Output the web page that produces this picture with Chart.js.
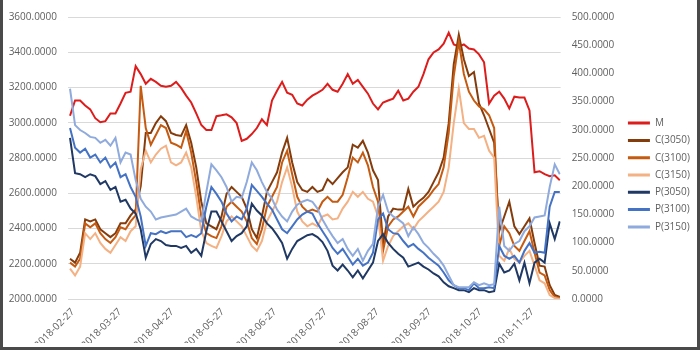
<!DOCTYPE html>
<html><head><meta charset="utf-8">
<script src="https://cdn.jsdelivr.net/npm/chart.js@4.4.1/dist/chart.umd.min.js"></script>
<style>
html,body{margin:0;padding:0;background:#fff;}
#wrap{position:relative;width:700px;height:350px;}
#frame{position:absolute;left:0;top:0;width:700px;height:350px;box-sizing:border-box;border-left:3px solid #4a4a4a;border-right:3px solid #4a4a4a;border-bottom:3px solid #4a4a4a;pointer-events:none;}
canvas{display:block;}
</style></head>
<body><div id="wrap"><canvas id="c" width="700" height="350"></canvas><div id="frame"></div></div>
<script>
const dates = ['2018-02-27','2018-03-02','2018-03-05','2018-03-08','2018-03-11','2018-03-14','2018-03-17','2018-03-20','2018-03-23','2018-03-26','2018-03-29','2018-04-01','2018-04-04','2018-04-07','2018-04-10','2018-04-13','2018-04-16','2018-04-19','2018-04-22','2018-04-25','2018-04-28','2018-05-01','2018-05-04','2018-05-07','2018-05-10','2018-05-13','2018-05-16','2018-05-19','2018-05-22','2018-05-25','2018-05-28','2018-05-31','2018-06-03','2018-06-06','2018-06-09','2018-06-12','2018-06-15','2018-06-18','2018-06-21','2018-06-24','2018-06-27','2018-06-30','2018-07-03','2018-07-06','2018-07-09','2018-07-12','2018-07-15','2018-07-18','2018-07-21','2018-07-24','2018-07-27','2018-07-30','2018-08-02','2018-08-05','2018-08-08','2018-08-11','2018-08-14','2018-08-17','2018-08-20','2018-08-23','2018-08-26','2018-08-29','2018-09-01','2018-09-04','2018-09-07','2018-09-10','2018-09-13','2018-09-16','2018-09-19','2018-09-22','2018-09-25','2018-09-28','2018-10-01','2018-10-04','2018-10-07','2018-10-10','2018-10-13','2018-10-16','2018-10-19','2018-10-22','2018-10-25','2018-10-28','2018-10-31','2018-11-03','2018-11-06','2018-11-09','2018-11-12','2018-11-15','2018-11-18','2018-11-21','2018-11-24','2018-11-27','2018-11-30','2018-12-03','2018-12-06','2018-12-09','2018-12-12','2018-12-15'];

const tickLabels = ['2018-02-27','2018-03-27','2018-04-27','2018-05-27','2018-06-27','2018-07-27','2018-08-27','2018-09-27','2018-10-27','2018-11-27'];

const seriesNames = ['M','C(3050)','C(3100)','C(3150)','P(3050)','P(3100)','P(3150)'];

const M = [3040,3126,3126,3098,3076,3026,3003,3009,3053,3053,
3109,3170,3176,3321,3276,3221,3249,3232,3210,3204,
3210,3232,3198,3154,3115,3053,2987,2959,2959,3037,
3042,3048,3031,2998,2897,2909,2936,2970,3020,2987,
3126,3182,3232,3170,3159,3109,3098,3131,3154,3170,
3187,3221,3187,3176,3221,3276,3221,3243,3204,3165,
3109,3076,3115,3126,3137,3182,3126,3137,3176,3204,
3276,3360,3399,3416,3449,3511,3444,3433,3444,3421,
3416,3388,3343,3109,3154,3176,3137,3081,3148,3143,
3143,3070,2719,2725,2708,2697,2702,2674];

const C3050 = [71.4,64.5,81.9,141.1,137.6,141.1,123.7,116.7,109.7,116.7,
134.1,134.1,148.1,158.5,200.3,294.4,294.4,311.8,324.0,315.3,
294.4,290.9,289.2,308.3,277.0,233.4,172.5,134.1,128.9,123.7,
146.3,186.4,198.6,189.9,181.2,160.3,123.7,108.0,146.3,189.9,
207.3,224.7,259.6,285.7,242.1,207.3,193.4,189.9,198.6,189.9,
193.4,212.5,203.8,214.3,224.7,233.4,273.5,268.3,280.5,259.6,
228.2,210.8,97.6,146.3,160.3,158.5,158.5,195.1,163.7,172.5,
179.4,189.9,207.3,224.7,250.8,311.8,416.3,468.6,425.0,395.4,
402.4,346.7,325.8,301.4,277.0,120.2,146.3,172.5,128.9,115.0,
128.9,142.8,99.3,59.2,57.5,24.4,7.0,3.5];

const C3100 = [64.5,57.5,71.4,134.1,127.2,134.1,116.7,106.3,99.3,109.7,
127.2,123.7,137.6,148.1,378.0,303.1,273.5,290.9,308.3,303.1,
277.0,273.5,268.3,297.9,259.6,207.3,146.3,116.7,111.5,108.0,
128.9,163.7,172.5,163.7,155.0,137.6,108.0,97.6,123.7,163.7,
181.2,198.6,242.1,263.0,221.2,181.2,163.7,155.0,158.5,155.0,
172.5,181.2,172.5,172.5,184.7,216.0,250.8,242.1,259.6,236.9,
198.6,172.5,85.4,128.9,141.1,146.3,155.0,163.7,146.3,163.7,
172.5,181.2,193.4,203.8,233.4,294.4,395.4,456.4,398.9,367.6,
351.9,341.4,336.2,325.8,303.1,94.1,128.9,116.7,94.1,85.4,
102.8,120.2,81.9,47.0,41.8,15.7,3.5,1.7];

const C3150 = [54.0,41.8,57.5,116.7,106.3,116.7,99.3,88.8,81.9,95.8,
109.7,102.8,120.2,128.9,230.0,263.0,242.1,256.1,266.5,271.8,
242.1,236.9,242.1,259.6,233.4,181.2,120.2,99.3,94.1,90.6,
111.5,137.6,146.3,137.6,128.9,111.5,94.1,85.4,102.8,137.6,
155.0,172.5,207.3,233.4,198.6,155.0,137.6,128.9,134.1,128.9,
146.3,149.8,141.1,142.8,160.3,172.5,189.9,181.2,189.9,177.7,
172.5,146.3,67.9,94.1,111.5,120.2,128.9,134.1,123.7,137.6,
146.3,155.0,163.7,172.5,189.9,233.4,311.8,372.8,311.8,301.4,
301.4,285.7,289.2,263.0,250.8,76.6,67.9,88.8,71.4,64.5,
76.6,85.4,59.2,33.1,27.9,7.0,1.7,0.0];

const P3050 = [285.7,223.0,221.2,216.0,221.2,217.8,203.8,209.0,193.4,198.6,
172.5,175.9,160.3,151.6,123.7,73.2,97.6,106.3,102.8,95.8,
94.1,94.1,90.6,94.1,81.9,88.8,76.6,120.2,155.0,155.0,
137.6,120.2,102.8,111.5,116.7,128.9,169.0,156.8,148.1,134.1,
125.4,113.2,99.3,71.4,88.8,102.8,108.0,113.2,115.0,109.7,
101.0,85.4,59.2,50.5,61.0,50.5,38.3,50.5,36.6,50.5,
64.5,102.8,115.0,99.3,88.8,80.1,73.2,57.5,61.0,64.5,
57.5,52.3,45.3,40.1,29.6,22.6,19.2,15.7,15.7,12.2,
19.2,15.7,15.7,12.2,13.9,62.7,47.0,50.5,62.7,33.1,
64.5,27.9,64.5,71.4,64.5,134.1,106.3,137.6];

const P3100 = [303.1,268.3,259.6,266.5,250.8,256.1,242.1,250.8,233.4,242.1,
216.0,221.2,198.6,181.2,146.3,94.1,116.7,115.0,120.2,116.7,
120.2,120.2,120.2,109.7,113.2,109.7,116.7,163.7,198.6,186.4,
172.5,151.6,137.6,146.3,141.1,160.3,202.1,191.6,181.2,169.0,
158.5,141.1,123.7,116.7,128.9,141.1,149.8,155.0,151.6,134.1,
120.2,106.3,90.6,80.1,88.8,74.9,61.0,71.4,59.2,64.5,
81.9,141.1,151.6,123.7,116.7,115.0,102.8,92.3,97.6,88.8,
81.9,73.2,66.2,59.2,47.0,33.1,24.4,19.2,19.2,15.7,
27.9,19.2,19.2,20.9,19.2,94.1,76.6,71.4,76.6,64.5,
85.4,99.3,81.9,83.6,81.9,163.7,189.9,189.9];

const P3150 = [372.8,308.3,299.6,294.4,287.4,285.7,277.0,282.2,271.8,285.7,
242.1,259.6,256.1,210.8,177.7,163.7,155.0,141.1,144.6,146.3,
148.1,149.8,155.0,160.3,146.3,141.1,137.6,189.9,238.7,228.2,
216.0,198.6,172.5,181.2,179.4,207.3,242.1,228.2,207.3,189.9,
177.7,158.5,146.3,137.6,155.0,167.2,172.5,175.9,172.5,160.3,
141.1,125.4,111.5,99.3,106.3,88.8,76.6,88.8,67.9,85.4,
97.6,163.7,184.7,155.0,146.3,141.1,134.1,111.5,127.2,115.0,
99.3,90.6,80.1,71.4,59.2,41.8,24.4,20.9,20.9,20.9,
29.6,24.4,27.9,24.4,26.1,163.7,94.1,85.4,97.6,102.8,
120.2,128.9,144.6,146.3,148.1,198.6,238.7,221.2];

const leftTicks = {min: 2000, max: 3600, step: 200};
const rightTicks = {min: 0, max: 500, step: 50};

const colors = ['#DD1C1C','#843C0C','#C55A11','#F4B183','#1F3864','#4472C4','#8FAADC'];
const seriesValues = [M, C3050, C3100, C3150, P3050, P3100, P3150];

const DAY = 86400000;
const t0 = Date.parse(dates[0]);
const toDay = s => Math.round((Date.parse(s) - t0) / DAY);
const xs = dates.map(toDay);
const tickDays = tickLabels.map(toDay);

const textColor = '#5f5f5f';
const font = {family: "'Open Sans', 'Liberation Sans', sans-serif", size: 10};

const datasets = seriesValues.map((arr, i) => ({
  label: seriesNames[i],
  data: arr.map((v, j) => ({x: xs[j], y: v})),
  yAxisID: i === 0 ? 'y' : 'y1',
  borderColor: colors[i],
  backgroundColor: colors[i],
  borderWidth: 2,
  pointRadius: 0,
  tension: 0,
  fill: false,
  order: seriesNames.length - 1 - i
}));

new Chart(document.getElementById('c'), {
  type: 'line',
  data: {datasets},
  options: {
    responsive: false,
    animation: false,
    devicePixelRatio: 1,
    layout: {padding: {top: 7, bottom: 7, left: 0, right: 0}},
    plugins: {
      tooltip: {enabled: false},
      legend: {
        position: 'right',
        align: 'center',
        maxWidth: 80,
        labels: {
          usePointStyle: true,
          pointStyle: 'line',
          pointStyleWidth: 22,
          boxHeight: 10,
          padding: 7.3,
          color: textColor,
          font: font,
          sort: (a, b) => a.datasetIndex - b.datasetIndex,
          generateLabels: (chart) => Chart.defaults.plugins.legend.labels.generateLabels(chart).map(l => Object.assign(l, {lineWidth: 3}))
        }
      }
    },
    scales: {
      x: {
        type: 'linear',
        min: -1.2,
        max: 291.5,
        grid: {display: false, drawTicks: false},
        border: {display: false},
        afterBuildTicks: ax => { ax.ticks = tickDays.map(v => ({value: v})); },
        afterFit: ax => { ax.height = 44; },
        ticks: {
          autoSkip: false,
          minRotation: 45,
          maxRotation: 45,
          padding: 7,
          labelOffset: 3,
          color: textColor,
          font: font,
          callback: (v, idx) => tickLabels[idx]
        }
      },
      y: {
        position: 'left',
        min: leftTicks.min,
        max: leftTicks.max,
        grid: {color: '#D9D9D9', drawTicks: false},
        border: {display: false},
        afterFit: ax => { ax.width = 68; },
        ticks: {stepSize: leftTicks.step, padding: 11, color: textColor, font: font, callback: v => Number(v).toFixed(4)}
      },
      y1: {
        position: 'right',
        min: rightTicks.min,
        max: rightTicks.max,
        grid: {display: false, drawTicks: false},
        border: {display: false},
        afterFit: ax => { ax.width = 60; },
        ticks: {stepSize: rightTicks.step, padding: 11, color: textColor, font: font, callback: v => Number(v).toFixed(4)}
      }
    }
  }
});
</script>
</body></html>
